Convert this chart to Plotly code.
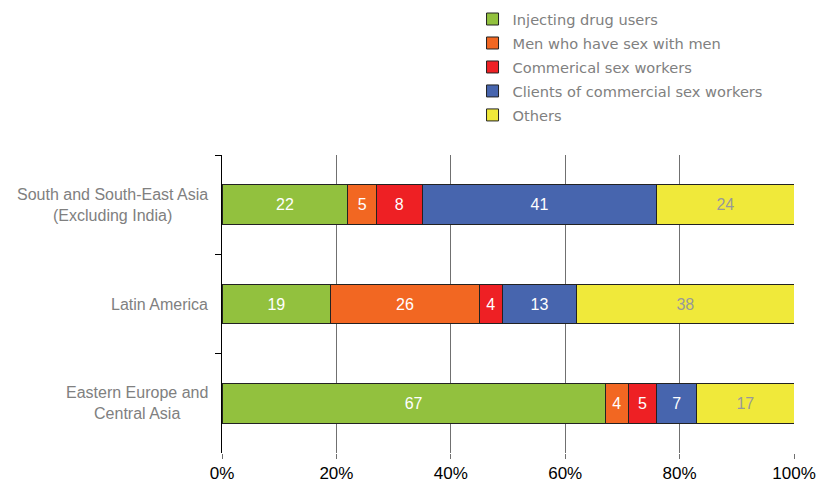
import plotly.graph_objects as go

regions = ["South and South-East Asia<br>(Excluding India)", "Latin America", "Eastern Europe and<br>Central Asia"]
series_names = ["Injecting drug users", "Men who have sex with men", "Commerical sex workers",
                "Clients of commercial sex workers", "Others"]
idu = [22, 19, 67]
msm = [5, 26, 4]
csw = [8, 4, 5]
clients = [41, 13, 7]
others = [24, 38, 17]
values = [idu, msm, csw, clients, others]
colors = ["#92C13E", "#F26722", "#EE2024", "#4765AE", "#F0E93A"]
text_colors = ["white", "white", "white", "white", "#999999"]
x_ticks = [0, 20, 40, 60, 80, 100]
x_tick_labels = ["0%", "20%", "40%", "60%", "80%", "100%"]

fig = go.Figure()
for i, (name, vals, col, tcol) in enumerate(zip(series_names, values, colors, text_colors)):
    fig.add_trace(go.Bar(
        y=regions, x=vals, name=name, orientation="h", legendgroup=f"g{i}",
        marker=dict(color=col, line=dict(color="#222222", width=1)),
        text=[str(v) for v in vals], textposition="inside", insidetextanchor="middle",
        textfont=dict(family="Liberation Sans, Arial", size=16, color=tcol),
        constraintext="none", textangle=0,
    ))

# category labels, centred lines, right edge 12px left of the axis
for r in regions:
    fig.add_annotation(x=-12 / 572, xref="paper", y=r, yref="y", text=r, showarrow=False,
                       xanchor="right", align="center",
                       font=dict(family="Liberation Sans, Arial", size=16, color="#808080"))

fig.update_layout(
    barmode="stack", bargap=0.6,
    width=823, height=489,
    margin=dict(l=222, r=29, t=155, b=36, autoexpand=False),
    plot_bgcolor="white", paper_bgcolor="white",
    uniformtext=dict(minsize=16, mode="show"),
    legend=dict(x=0.438, y=1.51, xanchor="left", yanchor="top", traceorder="grouped",
                font=dict(family="DejaVu Sans", size=14.6, color="#808080"),
                itemwidth=30, tracegroupgap=2, bgcolor="rgba(0,0,0,0)"),
    showlegend=True,
)
fig.update_xaxes(range=[0, 100], tickvals=x_ticks, ticktext=x_tick_labels,
                 showgrid=True, gridcolor="#707070", gridwidth=1,
                 ticks="outside", ticklen=5, tickcolor="#707070",
                 showline=False, zeroline=False, automargin=False,
                 tickfont=dict(family="Liberation Sans, Arial", size=17, color="black"))
fig.update_yaxes(autorange="reversed", showline=True, linecolor="black", linewidth=1,
                 ticks="outside", ticklen=6, tickcolor="black", tickson="boundaries",
                 showgrid=False, showticklabels=False, automargin=False)

fig.write_html("out.html", config={"displayModeBar": False},
               post_script="document.body.style.margin='0';")
